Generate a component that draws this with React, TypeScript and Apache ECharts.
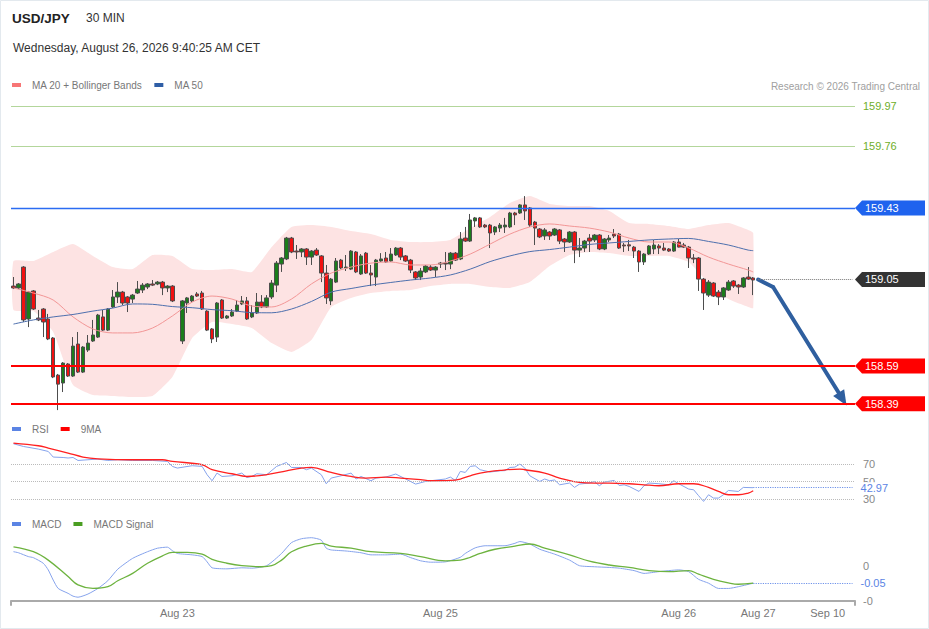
import React, { useEffect, useRef } from "react";
import * as echarts from "echarts";

// ---------- data ----------
const SLOT_COUNT = 170; // 30-min slots on the time axis (incl. future space)
const WEEKEND_GAP_SLOT = 33; // empty slot at the weekend re-open
const xTickLabels: [number, string][] = [
  [33, "Aug 23"],
  [86, "Aug 25"],
  [134, "Aug 26"],
  [150, "Aug 27"],
  [164, "Sep 10"],
];

// [open, close, low, high]
const candles: number[][] = [
  [159.015, 159.005, 158.999, 159.063],
  [159.005, 159.026, 158.999, 159.031],
  [159.116, 158.835, 158.824, 159.121],
  [158.84, 158.983, 158.797, 158.989],
  [158.989, 158.893, 158.888, 158.994],
  [158.845, 158.835, 158.829, 158.888],
  [158.893, 158.824, 158.744, 158.898],
  [158.84, 158.734, 158.728, 158.867],
  [158.739, 158.532, 158.526, 158.744],
  [158.542, 158.494, 158.356, 158.548],
  [158.5, 158.606, 158.452, 158.611],
  [158.601, 158.537, 158.532, 158.606],
  [158.537, 158.696, 158.532, 158.744],
  [158.707, 158.558, 158.553, 158.771],
  [158.558, 158.691, 158.553, 158.696],
  [158.675, 158.712, 158.665, 158.755],
  [158.723, 158.755, 158.718, 158.835],
  [158.744, 158.861, 158.739, 158.867],
  [158.851, 158.781, 158.776, 158.888],
  [158.781, 158.893, 158.776, 158.898],
  [158.904, 158.957, 158.899, 158.994],
  [158.957, 158.983, 158.925, 159.036],
  [158.983, 158.925, 158.914, 158.989],
  [158.957, 158.925, 158.877, 158.962],
  [158.946, 158.967, 158.925, 158.973],
  [158.978, 158.999, 158.973, 159.042],
  [158.994, 159.02, 158.978, 159.031],
  [159.01, 159.026, 158.999, 159.031],
  [159.026, 159.02, 159.015, 159.047],
  [159.026, 159.036, 159.02, 159.042],
  [159.036, 159.005, 158.967, 159.042],
  [159.005, 159.015, 158.983, 159.02],
  [159.015, 158.936, 158.93, 159.02],
  // weekend gap
  [158.723, 158.936, 158.707, 158.941],
  [158.925, 158.952, 158.872, 158.957],
  [158.936, 158.962, 158.93, 158.967],
  [158.973, 158.962, 158.957, 158.983],
  [158.978, 158.893, 158.888, 158.989],
  [158.882, 158.781, 158.776, 158.887],
  [158.787, 158.734, 158.712, 158.792],
  [158.744, 158.925, 158.718, 158.93],
  [158.941, 158.845, 158.84, 158.946],
  [158.845, 158.856, 158.84, 158.861],
  [158.856, 158.877, 158.851, 158.893],
  [158.882, 158.914, 158.877, 158.941],
  [158.92, 158.936, 158.914, 158.962],
  [158.936, 158.84, 158.835, 158.957],
  [158.851, 158.872, 158.845, 158.914],
  [158.872, 158.93, 158.867, 158.978],
  [158.93, 158.904, 158.898, 158.967],
  [158.904, 158.952, 158.899, 158.967],
  [158.957, 159.031, 158.946, 159.047],
  [159.02, 159.137, 158.983, 159.148],
  [159.132, 159.164, 159.09, 159.169],
  [159.159, 159.27, 159.153, 159.276],
  [159.27, 159.196, 159.19, 159.276],
  [159.201, 159.196, 159.159, 159.233],
  [159.196, 159.212, 159.169, 159.217],
  [159.212, 159.169, 159.127, 159.217],
  [159.169, 159.201, 159.127, 159.206],
  [159.206, 159.18, 159.175, 159.217],
  [159.175, 159.084, 159.036, 159.18],
  [159.084, 158.952, 158.92, 159.127],
  [158.936, 159.052, 158.914, 159.058],
  [159.036, 159.148, 159.031, 159.164],
  [159.153, 159.111, 159.105, 159.159],
  [159.111, 159.116, 159.095, 159.18],
  [159.105, 159.201, 159.1, 159.206],
  [159.196, 159.09, 159.084, 159.201],
  [159.079, 159.175, 159.074, 159.185],
  [159.19, 159.084, 159.079, 159.196],
  [159.084, 159.074, 159.015, 159.127],
  [159.063, 159.153, 159.015, 159.159],
  [159.148, 159.159, 159.143, 159.19],
  [159.164, 159.143, 159.138, 159.196],
  [159.148, 159.185, 159.143, 159.217],
  [159.18, 159.217, 159.175, 159.222],
  [159.217, 159.169, 159.153, 159.222],
  [159.175, 159.148, 159.143, 159.18],
  [159.153, 159.1, 159.084, 159.159],
  [159.09, 159.058, 159.047, 159.095],
  [159.063, 159.095, 159.047, 159.111],
  [159.09, 159.121, 159.084, 159.127],
  [159.116, 159.1, 159.095, 159.127],
  [159.1, 159.116, 159.063, 159.121],
  [159.132, 159.137, 159.111, 159.143],
  [159.137, 159.132, 159.1, 159.196],
  [159.132, 159.19, 159.105, 159.196],
  [159.19, 159.153, 159.148, 159.196],
  [159.159, 159.265, 159.153, 159.302],
  [159.27, 159.254, 159.249, 159.329],
  [159.254, 159.366, 159.249, 159.398],
  [159.361, 159.377, 159.329, 159.382],
  [159.377, 159.329, 159.324, 159.382],
  [159.339, 159.329, 159.323, 159.345],
  [159.339, 159.297, 159.217, 159.345],
  [159.302, 159.329, 159.286, 159.334],
  [159.323, 159.339, 159.302, 159.35],
  [159.329, 159.339, 159.297, 159.377],
  [159.329, 159.403, 159.323, 159.409],
  [159.403, 159.393, 159.339, 159.409],
  [159.403, 159.446, 159.398, 159.451],
  [159.446, 159.414, 159.366, 159.493],
  [159.43, 159.339, 159.329, 159.435],
  [159.355, 159.323, 159.233, 159.361],
  [159.318, 159.276, 159.27, 159.323],
  [159.281, 159.313, 159.26, 159.323],
  [159.302, 159.281, 159.26, 159.307],
  [159.286, 159.318, 159.281, 159.323],
  [159.313, 159.254, 159.238, 159.318],
  [159.265, 159.249, 159.196, 159.27],
  [159.249, 159.302, 159.244, 159.307],
  [159.302, 159.206, 159.137, 159.307],
  [159.206, 159.217, 159.169, 159.27],
  [159.217, 159.254, 159.196, 159.26],
  [159.27, 159.254, 159.196, 159.291],
  [159.26, 159.286, 159.249, 159.291],
  [159.286, 159.212, 159.206, 159.291],
  [159.212, 159.265, 159.206, 159.27],
  [159.26, 159.27, 159.249, 159.286],
  [159.291, 159.281, 159.27, 159.318],
  [159.291, 159.217, 159.212, 159.297],
  [159.233, 159.228, 159.196, 159.244],
  [159.234, 159.228, 159.201, 159.26],
  [159.222, 159.201, 159.164, 159.228],
  [159.201, 159.143, 159.09, 159.206],
  [159.143, 159.185, 159.127, 159.19],
  [159.185, 159.228, 159.18, 159.233],
  [159.212, 159.233, 159.185, 159.26],
  [159.228, 159.217, 159.185, 159.238],
  [159.217, 159.206, 159.201, 159.244],
  [159.212, 159.201, 159.196, 159.217],
  [159.201, 159.249, 159.196, 159.254],
  [159.249, 159.222, 159.22, 159.265],
  [159.233, 159.222, 159.217, 159.244],
  [159.222, 159.164, 159.111, 159.228],
  [159.164, 159.159, 159.137, 159.185],
  [159.164, 159.052, 158.989, 159.169],
  [159.052, 158.978, 158.888, 159.058],
  [158.967, 159.036, 158.957, 159.047],
  [159.031, 158.962, 158.957, 159.036],
  [158.983, 158.957, 158.914, 158.994],
  [158.957, 159.005, 158.941, 159.01],
  [158.994, 159.036, 158.989, 159.047],
  [159.042, 159.015, 159.005, 159.047],
  [159.02, 159.01, 158.973, 159.026],
  [159.01, 159.058, 159.005, 159.063],
  [159.063, 159.052, 159.047, 159.116],
  [159.058, 159.047, 158.967, 159.063],
];

// [slot, value]
const bbUpper = [
  [0, 159.148], [4, 159.148], [8, 159.196], [12, 159.238], [16, 159.175], [20, 159.116],
  [24, 159.105], [28, 159.18], [32, 159.175], [36, 159.105], [40, 159.1], [44, 159.105],
  [48, 159.09], [52, 159.222], [56, 159.329], [60, 159.339], [64, 159.329], [68, 159.307],
  [72, 159.291], [76, 159.26], [80, 159.249], [84, 159.249], [88, 159.26], [92, 159.323],
  [96, 159.382], [100, 159.456], [104, 159.493], [108, 159.451], [112, 159.44], [116, 159.44],
  [120, 159.414], [124, 159.35], [128, 159.345], [132, 159.334], [136, 159.318], [140, 159.339],
  [144, 159.35], [148, 159.313], [149, 159.297],
];
const bbLower = [
  [0, 158.888], [4, 158.882], [8, 158.771], [12, 158.489], [16, 158.436], [20, 158.431],
  [24, 158.425], [28, 158.431], [32, 158.532], [36, 158.739], [40, 158.824], [44, 158.813],
  [48, 158.792], [52, 158.712], [56, 158.665], [60, 158.728], [64, 158.904], [68, 158.952],
  [72, 158.978], [76, 158.989], [80, 158.994], [84, 159.015], [88, 159.026], [92, 159.026],
  [96, 159.01], [100, 159.005], [104, 159.036], [108, 159.121], [112, 159.18], [116, 159.196],
  [120, 159.19], [124, 159.175], [128, 159.175], [132, 159.175], [136, 159.143], [140, 159.031],
  [144, 158.946], [148, 158.904], [149, 158.898],
];
const ma20 = [
  [0, 159.005], [4, 158.978], [8, 158.941], [12, 158.851], [16, 158.787], [20, 158.766],
  [24, 158.766], [28, 158.792], [32, 158.856], [36, 158.93], [40, 158.962], [44, 158.946],
  [48, 158.909], [52, 158.904], [56, 158.946], [60, 159.026], [64, 159.084], [68, 159.116],
  [72, 159.137], [76, 159.143], [80, 159.127], [84, 159.127], [88, 159.148], [92, 159.185],
  [96, 159.238], [100, 159.291], [104, 159.329], [108, 159.345], [112, 159.334], [116, 159.323],
  [120, 159.302], [124, 159.27], [128, 159.249], [132, 159.249], [136, 159.217], [140, 159.169],
  [144, 159.132], [148, 159.1], [149, 159.09],
];
const ma50 = [
  [0, 158.813], [4, 158.835], [8, 158.851], [12, 158.864], [16, 158.882], [20, 158.898],
  [24, 158.92], [28, 158.918], [32, 158.906], [36, 158.9], [40, 158.89], [44, 158.884],
  [48, 158.874], [52, 158.873], [56, 158.893], [60, 158.933], [64, 158.983], [68, 159.002],
  [72, 159.02], [76, 159.034], [80, 159.047], [84, 159.058], [88, 159.074], [92, 159.105],
  [96, 159.145], [100, 159.175], [104, 159.198], [108, 159.209], [112, 159.222], [116, 159.236],
  [120, 159.244], [124, 159.252], [128, 159.26], [132, 159.265], [136, 159.268], [140, 159.252],
  [144, 159.233], [148, 159.206], [149, 159.203],
];
const rsi = [
  [0, 93.2], [2, 90.1], [5, 87.1], [7, 84.4], [8, 78], [10, 77.5], [11, 76.9], [12, 77.5],
  [13, 74.1], [15, 74.9], [17, 75.7], [19, 74.1], [21, 74.9], [24, 74.1], [28, 74.1], [31, 73],
  [32, 67.3], [33, 65.4], [36, 68.1], [38, 67.3], [39, 57.8], [40, 50.9], [41, 59.7], [42, 55.8],
  [44, 56.6], [46, 59.7], [47, 54.7], [48, 55.8], [49, 58.9], [51, 57.8], [53, 67.3], [55, 71.8],
  [56, 66.1], [58, 66.1], [59, 63.5], [60, 65.4], [62, 57.8], [63, 47.5], [64, 54], [66, 56.6],
  [68, 59.7], [69, 52.9], [70, 55.8], [72, 50.9], [73, 54], [75, 55.1], [77, 58.6], [79, 52.9],
  [81, 47.1], [83, 50.1], [84, 50.9], [87, 52.9], [88, 55.1], [89, 51.3], [90, 61.6], [91, 60.4],
  [92, 67.3], [93, 68], [94, 63.5], [96, 60.9], [98, 62.3], [99, 62.5], [100, 66.1], [101, 66.5],
  [102, 70], [103, 65.4], [104, 56.6], [106, 50.1], [107, 52.9], [108, 50.9], [109, 51.8], [110, 46.3],
  [112, 48.3], [113, 43.3], [114, 47.1], [116, 48.3], [117, 50.1], [118, 45.2], [119, 49.4], [121, 51.3],
  [122, 45.5], [123, 46.3], [124, 44.4], [126, 38.7], [127, 45.2], [128, 48.3], [130, 47.5], [132, 46.3],
  [133, 50.9], [134, 47.5], [136, 41.4], [137, 40.6], [138, 33.8], [139, 27.3], [140, 34.9], [141, 31.1],
  [142, 31.1], [143, 34.9], [144, 39.8], [146, 38.7], [147, 43.3], [149, 42.97],
];
const rsiMa9 = [
  [0, 94], [5, 90.9], [7, 88.3], [11, 82.6], [14, 78], [17, 76], [24, 74.9], [30, 74.9],
  [32, 73], [38, 69.2], [40, 63.5], [44, 58.9], [47, 55.8], [51, 57.8], [55, 62.3], [58, 65.4],
  [60, 66.1], [64, 60.4], [68, 55.8], [71, 54], [75, 55.1], [78, 54], [82, 52.1], [84, 50.9],
  [88, 51.3], [90, 52.9], [92, 56.6], [94, 59.7], [98, 62.7], [102, 64.3], [103, 63.5], [107, 59.7],
  [110, 54], [114, 49], [117, 48.3], [120, 48.3], [124, 47.5], [127, 46.3], [130, 45.2], [134, 47.5],
  [137, 47.5], [140, 43.3], [142, 38.7], [144, 34.9], [146, 34.9], [148, 36.9], [149, 39.5],
];
const macd = [
  [0, 0.04], [1, 0.037], [3, 0.026], [4, 0.023], [6, 0.007], [7, -0.012], [8, -0.041], [9, -0.065],
  [11, -0.079], [12, -0.087], [13, -0.09], [15, -0.081], [17, -0.065], [19, -0.043], [21, -0.01],
  [24, 0.021], [27, 0.04], [29, 0.05], [31, 0.053], [32, 0.043], [33, 0.035], [36, 0.031], [38, 0.026],
  [39, 0.011], [40, -0.006], [43, -0.009], [46, -0.006], [48, -0.007], [51, 0], [54, 0.035], [56, 0.066],
  [58, 0.077], [60, 0.08], [62, 0.073], [63, 0.05], [64, 0.045], [67, 0.042], [70, 0.037], [72, 0.031],
  [75, 0.031], [78, 0.033], [80, 0.023], [82, 0.014], [84, 0.01], [87, 0.011], [90, 0.024], [91, 0.035],
  [93, 0.051], [95, 0.057], [97, 0.057], [99, 0.057], [101, 0.064], [102, 0.069], [104, 0.062], [106, 0.047],
  [109, 0.033], [112, 0.016], [114, 0], [117, -0.003], [120, -0.005], [122, -0.007], [125, -0.014], [127, -0.022],
  [130, -0.017], [134, -0.012], [136, -0.017], [138, -0.039], [140, -0.05], [142, -0.065], [144, -0.065],
  [146, -0.06], [149, -0.05],
];
const macdSignal = [
  [0, 0.054], [4, 0.04], [7, 0.016], [11, -0.031], [13, -0.055], [16, -0.065], [19, -0.06], [21, -0.043],
  [24, -0.022], [27, 0.007], [30, 0.028], [32, 0.038], [35, 0.038], [38, 0.033], [40, 0.018], [43, 0.007],
  [46, 0], [50, -0.003], [52, 0], [54, 0.016], [56, 0.04], [59, 0.056], [62, 0.064], [64, 0.056],
  [68, 0.05], [72, 0.04], [78, 0.035], [82, 0.026], [87, 0.014], [90, 0.016], [92, 0.024], [94, 0.035],
  [97, 0.047], [101, 0.056], [104, 0.062], [107, 0.05], [112, 0.031], [116, 0.013], [120, 0.002], [124, -0.005],
  [128, -0.014], [132, -0.017], [136, -0.014], [138, -0.024], [141, -0.039], [144, -0.049], [146, -0.053],
  [149, -0.05],
];

const targetLevels = [159.97, 159.76];
const pivotLevel = 159.43;
const lastPrice = 159.05;
const supportLevels = [158.59, 158.39];
const lastRsi = 42.97;
const lastMacd = -0.05;
const rsiGuides = [70, 50, 30];
const forecastPath = [
  [150, 159.05],
  [153, 159.01],
  [167, 158.415],
];

// ---------- layout ----------
const W = 929;
const H = 629;
const GRID_LEFT = 11;
const GRID_RIGHT = 74;
const PLOT_RIGHT = W - GRID_RIGHT;
const FONT = "Arial, 'Liberation Sans', Helvetica, sans-serif";

const categories = Array.from({ length: SLOT_COUNT }, (_, i) => String(i));
const labelBySlot = new Map<number, string>(xTickLabels);
const candleData = candles.map((c, i) => [i < WEEKEND_GAP_SLOT ? i : i + 1, ...c]);

function buildOption() {
  const xAxes = [0, 1, 2].map((g) => ({
    type: "category",
    gridIndex: g,
    data: categories,
    boundaryGap: true,
    show: g === 2,
    axisLine: { show: g === 2, onZero: false, lineStyle: { color: "#aaaaaa", width: 2 } },
    axisTick: {
      show: g === 2,
      interval: (i: number) => i === 0,
      length: 5,
      lineStyle: { color: "#aaaaaa", width: 2 },
    },
    axisLabel: {
      show: g === 2,
      interval: (i: number) => labelBySlot.has(i),
      formatter: (v: string) => labelBySlot.get(Number(v)) ?? "",
      color: "#777777",
      fontSize: 11,
      margin: 7,
      fontFamily: FONT,
    },
    splitLine: { show: false },
  }));

  const legendBase = {
    left: 12,
    padding: 0,
    icon: "rect",
    itemWidth: 9,
    itemHeight: 4,
    itemGap: 12,
    selectedMode: false,
    textStyle: { color: "#777777", fontSize: 10, fontFamily: FONT, padding: [0, 0, 0, 6] },
  };

  return {
    animation: false,
    textStyle: { fontFamily: FONT },
    grid: [
      { left: GRID_LEFT, right: GRID_RIGHT, top: 95, height: 320, outerBoundsMode: "none" },
      { left: GRID_LEFT, right: GRID_RIGHT, top: 437.8, height: 87.5, outerBoundsMode: "none" },
      { left: GRID_LEFT, right: GRID_RIGHT, top: 530.7, height: 70, outerBoundsMode: "none" },
    ],
    xAxis: xAxes,
    yAxis: [
      { type: "value", gridIndex: 0, min: 158.33, max: 160.03, show: false, splitLine: { show: false } },
      {
        type: "value",
        gridIndex: 1,
        position: "right",
        min: 0,
        max: 100,
        interval: 10,
        axisLine: { show: false },
        axisTick: { show: false },
        splitLine: { show: false },
        axisLabel: {
          formatter: (v: number) => (rsiGuides.includes(v) ? String(v) : ""),
          color: "#888888",
          fontSize: 11,
          margin: 8,
          fontFamily: FONT,
        },
      },
      {
        type: "value",
        gridIndex: 2,
        position: "right",
        min: -0.1,
        max: 0.1,
        interval: 0.1,
        axisLine: { show: false },
        axisTick: { show: false },
        splitLine: { show: false },
        axisLabel: {
          formatter: (v: number) => (Math.abs(v) < 1e-9 ? "0" : v < 0 ? "-0" : ""),
          color: "#888888",
          fontSize: 11,
          margin: 8,
          fontFamily: FONT,
        },
      },
    ],
    legend: [
      {
        ...legendBase,
        top: 80,
        data: [
          { name: "MA 20 + Bollinger Bands", itemStyle: { color: "#f77676" } },
          { name: "MA 50", itemStyle: { color: "#2f5ea6" } },
        ],
      },
      {
        ...legendBase,
        top: 424,
        data: [
          { name: "RSI", itemStyle: { color: "#5b84e4" } },
          { name: "9MA", itemStyle: { color: "#ff0000" } },
        ],
      },
      {
        ...legendBase,
        top: 519,
        data: [
          { name: "MACD", itemStyle: { color: "#5b84e4" } },
          { name: "MACD Signal", itemStyle: { color: "#4a9e22" } },
        ],
      },
    ],
    series: [
      {
        type: "custom",
        name: "bands",
        xAxisIndex: 0,
        yAxisIndex: 0,
        silent: true,
        z: 1,
        data: [[bbUpper[0][0], bbUpper[0][1]]],
        encode: { x: 0, y: 1 },
        renderItem: (_params: any, api: any) => {
          const pts = bbUpper
            .map(([s, v]) => api.coord([s, v]))
            .concat(
              bbLower
                .slice()
                .reverse()
                .map(([s, v]) => api.coord([s, v]))
            );
          return {
            type: "polygon",
            shape: { points: pts, smooth: 0.15 },
            style: { fill: "#fde3e3" },
          };
        },
      },
      {
        type: "candlestick",
        name: "USD/JPY",
        xAxisIndex: 0,
        yAxisIndex: 0,
        data: candleData,
        encode: { x: 0, y: [1, 2, 3, 4] },
        barWidth: 4,
        z: 3,
        itemStyle: {
          color: "#1b7d1b",
          color0: "#f01010",
          borderColor: "#4d4d4d",
          borderColor0: "#4d4d4d",
          borderWidth: 1,
        },
      },
      {
        type: "line",
        name: "MA 20 + Bollinger Bands",
        xAxisIndex: 0,
        yAxisIndex: 0,
        data: ma20,
        color: "#f29696",
        symbol: "none",
        smooth: 0.3,
        z: 4,
        lineStyle: { width: 1, color: "#f29696" },
        markLine: {
          silent: true,
          symbol: "none",
          label: { show: false },
          lineStyle: { color: "#2f5f9f", width: 4, type: "solid", cap: "round" },
          data: [
            [{ coord: forecastPath[0] }, { coord: forecastPath[1] }],
            [
              { coord: forecastPath[1] },
              { coord: forecastPath[2], symbol: "triangle", symbolSize: [13, 15] },
            ],
          ],
        },
      },
      {
        type: "line",
        name: "MA 50",
        xAxisIndex: 0,
        yAxisIndex: 0,
        data: ma50,
        color: "#4d6fad",
        symbol: "none",
        smooth: 0.3,
        z: 4,
        lineStyle: { width: 1, color: "#4d6fad" },
        markLine: {
          silent: true,
          symbol: "none",
          label: { show: false },
          data: [
            ...targetLevels.map((v) => ({
              yAxis: v,
              lineStyle: { color: "#b3d69b", width: 1.2, type: "solid" },
              label: {
                show: true,
                position: "end",
                distance: 8,
                formatter: v.toFixed(2),
                color: "#6eae2a",
                fontSize: 11,
                fontFamily: FONT,
              },
            })),
            { yAxis: pivotLevel, lineStyle: { color: "#2b6cf2", width: 1.3, type: "solid" } },
            ...supportLevels.map((v) => ({
              yAxis: v,
              lineStyle: { color: "#ff0000", width: 2, type: "solid" },
            })),
            [
              { coord: [forecastPath[0][0], lastPrice], lineStyle: { color: "#777777", width: 1, type: "dotted" } },
              { coord: [SLOT_COUNT - 1, lastPrice] },
            ],
          ],
        },
      },
      {
        type: "line",
        name: "RSI",
        xAxisIndex: 1,
        yAxisIndex: 1,
        data: rsi,
        color: "#86a3ec",
        symbol: "none",
        z: 3,
        lineStyle: { width: 1, color: "#86a3ec" },
        markLine: {
          silent: true,
          symbol: "none",
          label: { show: false },
          data: [
            ...rsiGuides.map((v) => ({
              yAxis: v,
              lineStyle: { color: "#bbbbbb", width: 1, type: "dotted" },
            })),
            [
              {
                coord: [rsi[rsi.length - 1][0], lastRsi],
                lineStyle: { color: "#6f93ea", width: 1.2, type: "dotted" },
                label: {
                  show: true,
                  position: "end",
                  distance: 8,
                  formatter: lastRsi.toFixed(2),
                  color: "#5b84e4",
                  fontSize: 11,
                  fontFamily: FONT,
                  backgroundColor: "#ffffff",
                  padding: [0, 2, 0, 0],
                },
              },
              { coord: [SLOT_COUNT - 1, lastRsi] },
            ],
          ],
        },
      },
      {
        type: "line",
        name: "9MA",
        xAxisIndex: 1,
        yAxisIndex: 1,
        data: rsiMa9,
        color: "#ff2020",
        symbol: "none",
        smooth: 0.4,
        z: 4,
        lineStyle: { width: 1.3, color: "#ff2020" },
      },
      {
        type: "line",
        name: "MACD",
        xAxisIndex: 2,
        yAxisIndex: 2,
        data: macd,
        color: "#86a3ec",
        symbol: "none",
        smooth: 0.2,
        z: 3,
        lineStyle: { width: 1, color: "#86a3ec" },
        markLine: {
          silent: true,
          symbol: "none",
          label: { show: false },
          data: [
            [
              {
                coord: [macd[macd.length - 1][0], lastMacd],
                lineStyle: { color: "#6f93ea", width: 1.2, type: "dotted" },
                label: {
                  show: true,
                  position: "end",
                  distance: 8,
                  formatter: lastMacd.toFixed(2),
                  color: "#5b84e4",
                  fontSize: 11,
                  fontFamily: FONT,
                },
              },
              { coord: [SLOT_COUNT - 1, lastMacd] },
            ],
          ],
        },
      },
      {
        type: "line",
        name: "MACD Signal",
        xAxisIndex: 2,
        yAxisIndex: 2,
        data: macdSignal,
        color: "#6db33f",
        symbol: "none",
        smooth: 0.4,
        z: 4,
        lineStyle: { width: 1.3, color: "#6db33f" },
      },
    ],
  };
}

export default function App() {
  const ref = useRef<HTMLDivElement>(null);

  useEffect(() => {
    if (!ref.current) return;
    const chart = echarts.init(ref.current, null, { renderer: "svg" });
    chart.setOption(buildOption() as any);

    const yOf = (v: number) =>
      (chart.convertToPixel({ xAxisIndex: 0, yAxisIndex: 0 } as any, [0, v]) as number[])[1];

    const tagDefs: [number, string][] = [
      [pivotLevel, "#1f63ee"],
      [lastPrice, "#333333"],
      [supportLevels[0], "#ff0000"],
      [supportLevels[1], "#ff0000"],
    ];
    const tagGraphics = tagDefs.flatMap(([v, c]) => {
      const y = yOf(v);
      return [
        {
          type: "polygon",
          silent: true,
          shape: {
            points: [
              [PLOT_RIGHT, y],
              [PLOT_RIGHT + 7, y - 7.5],
              [W - 4, y - 7.5],
              [W - 4, y + 7.5],
              [PLOT_RIGHT + 7, y + 7.5],
            ],
          },
          style: { fill: c },
        },
        {
          type: "text",
          silent: true,
          x: PLOT_RIGHT + 10,
          y,
          style: {
            text: v.toFixed(2),
            fill: "#ffffff",
            fontSize: 11,
            fontFamily: FONT,
            verticalAlign: "middle",
            align: "left",
          },
        },
      ];
    });

    const staticGraphics = [
      {
        type: "rect",
        silent: true,
        shape: { x: 0.5, y: 0.5, width: W - 1, height: H - 1 },
        style: { fill: "none", stroke: "#e3e9ee", lineWidth: 1 },
      },
      {
        type: "text",
        silent: true,
        x: 12,
        y: 18,
        style: {
          text: "USD/JPY",
          fill: "#222222",
          fontSize: 13.5,
          fontWeight: "bold",
          fontFamily: FONT,
          verticalAlign: "middle",
        },
      },
      {
        type: "text",
        silent: true,
        x: 86,
        y: 18,
        style: { text: "30 MIN", fill: "#333333", fontSize: 12, fontFamily: FONT, verticalAlign: "middle" },
      },
      {
        type: "text",
        silent: true,
        x: 13,
        y: 48,
        style: {
          text: "Wednesday, August 26, 2026 9:40:25 AM CET",
          fill: "#333333",
          fontSize: 12,
          fontFamily: FONT,
          verticalAlign: "middle",
        },
      },
      {
        type: "text",
        silent: true,
        x: 920,
        y: 86,
        style: {
          text: "Research © 2026 Trading Central",
          fill: "#a0a0a0",
          fontSize: 10,
          fontFamily: FONT,
          verticalAlign: "middle",
          align: "right",
        },
      },
    ];

    chart.setOption({ graphic: [...staticGraphics, ...tagGraphics] } as any);

    return () => {
      chart.dispose();
    };
  }, []);

  return <div ref={ref} style={{ position: "absolute", left: 0, top: 0, width: W, height: H }} />;
}
